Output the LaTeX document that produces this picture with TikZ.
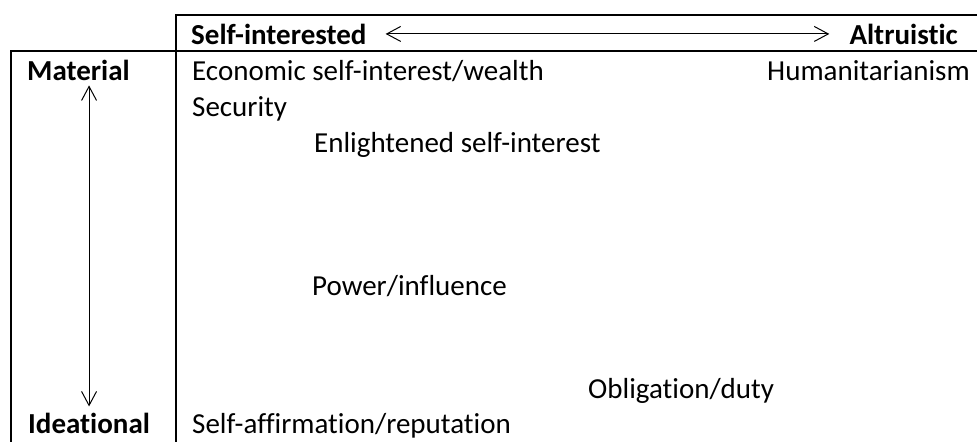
\documentclass[tikz,border=0pt]{standalone}
\usepackage{fontspec}
\setmainfont[Ligatures=NoCommon]{Carlito}
\usepackage{tikz}
\usetikzlibrary{arrows.meta}

\begin{document}
\begin{tikzpicture}[x=1pt,y=-1pt]
\tikzset{cell/.style={anchor=base west,inner sep=0pt,font=\fontsize{29}{35}\selectfont},
head/.style={cell,font=\fontsize{29}{35}\selectfont\bfseries},
rule/.style={line width=2pt},
axis/.style={line width=1pt,{Straight Barb[length=14pt,width=15pt]}-{Straight Barb[length=14pt,width=15pt]}}}
\useasboundingbox (0,0) rectangle (977,442);
% grid lines of the table
\draw[rule] (176,15) -- (977,15);
\draw[rule] (10,51) -- (977,51);
\draw[rule] (11,50) -- (11,442);
\draw[rule] (176,14) -- (176,442);
% headings
\node[head] (selfint) at (191,44) {Self-interested};
\node[head,anchor=base east] (altru) at (958,44) {Altruistic};
\node[head] (mat) at (27,80) {Material};
\node[head] (ideat) at (28,433) {Ideational};
% motives
\node[cell] (econ) at (192,80) {Economic self-interest/wealth};
\node[cell,anchor=base east] (human) at (970,80) {Humanitarianism};
\node[cell] (secur) at (192,116) {Security};
\node[cell] (enlight) at (314,152) {Enlightened self-interest};
\node[cell] (power) at (312,295) {Power/influence};
\node[cell] (oblig) at (588,398) {Obligation/duty};
\node[cell] (affirm) at (192,433) {Self-affirmation/reputation};
% the two scales
\draw[axis] ([xshift=19pt]selfint.east) -- ([xshift=-20pt]altru.west);
\coordinate (uptip) at ([yshift=-5pt]ideat.north |- mat.south);
\draw[axis] (uptip) -- ([yshift=6pt]ideat.north);
\end{tikzpicture}
\end{document}
